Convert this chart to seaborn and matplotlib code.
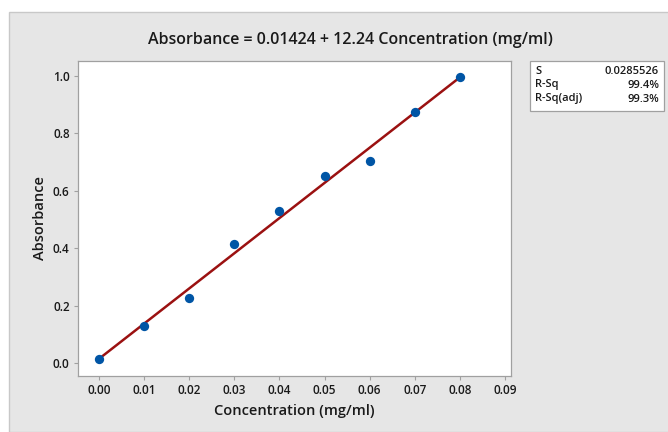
import numpy as np
import pandas as pd
import matplotlib.pyplot as plt
import seaborn as sns
from matplotlib.patches import Rectangle

concentration = [0.00, 0.01, 0.02, 0.03, 0.04, 0.05, 0.06, 0.07, 0.08]
absorbance = [0.015, 0.130, 0.227, 0.416, 0.531, 0.650, 0.704, 0.874, 0.998]
x_ticks = [0.00, 0.01, 0.02, 0.03, 0.04, 0.05, 0.06, 0.07, 0.08, 0.09]
y_ticks = [0.0, 0.2, 0.4, 0.6, 0.8, 1.0]
stat_names = ["S", "R-Sq", "R-Sq(adj)"]
stat_values = ["0.0285526", "99.4%", "99.3%"]

df = pd.DataFrame({"Concentration (mg/ml)": concentration, "Absorbance": absorbance})

sns.set_theme(style="white")
plt.rcParams["font.family"] = ["Open Sans", "DejaVu Sans"]
plt.rcParams["text.color"] = "#1a1a1a"

fig = plt.figure(figsize=(6.68, 4.32), dpi=100, facecolor="white")
fig.patches.append(Rectangle((9 / 668, 0), 1, 1 - 12 / 432, transform=fig.transFigure,
                             facecolor="#e6e6e6", edgecolor="#c8c8c8", lw=1, zorder=-5))

ax = fig.add_axes([78 / 668, 56 / 432, 433 / 668, 315 / 432])
ax.set_facecolor("white")

sns.regplot(data=df, x="Concentration (mg/ml)", y="Absorbance", ax=ax, ci=None,
            truncate=True,
            scatter_kws={"color": "#0055a5", "alpha": 1, "s": 45, "zorder": 3,
                         "linewidths": 0},
            line_kws={"color": "#9b1111", "lw": 1.8, "zorder": 2})

ax.set_xlim(-0.00466, 0.09133)
ax.set_ylim(-0.045, 1.052)
ax.set_xticks(x_ticks)
ax.set_xticklabels([f"{t:.2f}" for t in x_ticks])
ax.set_yticks(y_ticks)
ax.set_yticklabels([f"{t:.1f}" for t in y_ticks])
ax.tick_params(axis="both", length=3, width=0.8, color="#a0a0a0", direction="out",
               labelsize=8.5, pad=3, bottom=True, left=True, labelcolor="#1a1a1a")
for lab in ax.get_xticklabels() + ax.get_yticklabels():
    lab.set_fontweight("semibold")
for sp in ax.spines.values():
    sp.set_color("#a0a0a0")
    sp.set_linewidth(0.9)

ax.set_xlabel("Concentration (mg/ml)", fontsize=10.5, fontweight="semibold", labelpad=5,
              color="#1a1a1a")
ax.set_ylabel("Absorbance", fontsize=10.5, fontweight="semibold", labelpad=4,
              color="#1a1a1a")
fig.text(350 / 668, 1 - 40 / 432, "Absorbance = 0.01424 + 12.24 Concentration (mg/ml)",
         ha="center", va="center", fontsize=11.5, fontweight="semibold")

# stats box
fig.patches.append(Rectangle((530 / 668, 1 - 111 / 432), 134 / 668, 50 / 432,
                             transform=fig.transFigure, facecolor="white",
                             edgecolor="#a0a0a0", lw=0.9, zorder=1))
for i, (n, v) in enumerate(zip(stat_names, stat_values)):
    yy = 1 - (71 + i * 14) / 432
    fig.text(535 / 668, yy, n, ha="left", va="center", fontsize=8, fontweight="semibold")
    fig.text(659 / 668, yy, v, ha="right", va="center", fontsize=8, fontweight="semibold")

fig.savefig("out.png", dpi=100, facecolor=fig.get_facecolor())
